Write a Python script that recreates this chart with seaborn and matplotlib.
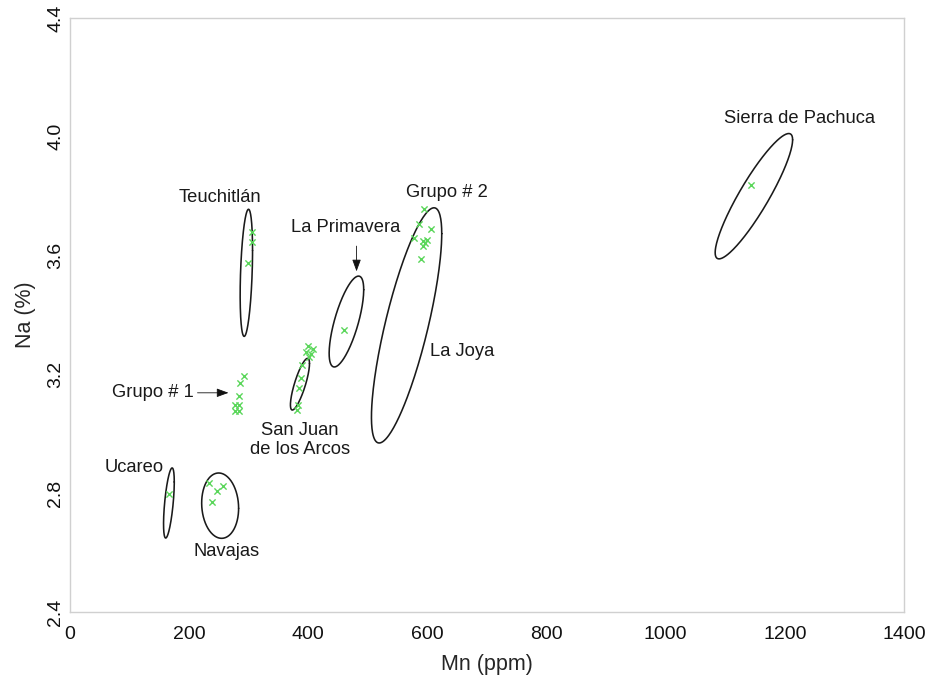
import matplotlib
matplotlib.use('Agg')
import matplotlib.pyplot as plt
from matplotlib.ticker import MultipleLocator
import seaborn as sns
import pandas as pd
import numpy as np

# measured sample points (Mn ppm, Na %)
teuchitlan_mn = [306, 306, 298]
teuchitlan_na = [3.681, 3.646, 3.574]
primavera_mn = [460]
primavera_na = [3.349]
grupo2_mn = [595, 586, 606, 578, 593, 599, 596, 593, 589]
grupo2_na = [3.758, 3.705, 3.691, 3.660, 3.649, 3.652, 3.641, 3.632, 3.587]
pachuca_mn = [1143]
pachuca_na = [3.838]
grupo1_mn = [292, 285, 284, 277, 284, 277, 284]
grupo1_na = [3.194, 3.171, 3.126, 3.098, 3.098, 3.078, 3.078]
sanjuan_mn = [400, 408, 396, 405, 401, 390, 388, 384, 383, 381]
sanjuan_na = [3.294, 3.284, 3.274, 3.267, 3.257, 3.230, 3.189, 3.155, 3.098, 3.081]
ucareo_mn = [166]
ucareo_na = [2.798]
navajas_mn = [234, 256, 246, 238]
navajas_na = [2.834, 2.825, 2.809, 2.772]

# source ellipses: centre, half-extent in x and y, tilt (correlation)
ell_names = ['Teuchitlán', 'La Primavera', 'La Joya', 'Sierra de Pachuca',
             'San Juan', 'Ucareo', 'Navajas']
ell_cx = [296, 464, 565, 1148, 386, 166, 252]
ell_cy = [3.542, 3.378, 3.365, 3.800, 3.167, 2.767, 2.758]
ell_sx = [10.4, 29, 59, 65, 16, 9, 31]
ell_sy = [0.214, 0.153, 0.396, 0.211, 0.087, 0.118, 0.110]
ell_rho = [0.35, 0.70, 0.78, 0.90, 0.80, 0.60, -0.08]

sns.set_theme(style='white')
plt.rcParams['font.family'] = ['Liberation Sans', 'DejaVu Sans']

all_mn = (teuchitlan_mn + primavera_mn + grupo2_mn + pachuca_mn + grupo1_mn
          + sanjuan_mn + ucareo_mn + navajas_mn)
all_na = (teuchitlan_na + primavera_na + grupo2_na + pachuca_na + grupo1_na
          + sanjuan_na + ucareo_na + navajas_na)
df = pd.DataFrame({'Mn': all_mn, 'Na': all_na})

fig = plt.figure(figsize=(9.25, 6.85), dpi=100)
ax = fig.add_axes([0.0757, 0.1066, 0.9016, 0.8671])

sns.scatterplot(data=df, x='Mn', y='Na', marker='x', color='#5ad65a',
                s=20, linewidth=1.0, ax=ax, zorder=3)

t = np.linspace(0, 2 * np.pi, 240)
for cx, cy, sx, sy, r in zip(ell_cx, ell_cy, ell_sx, ell_sy, ell_rho):
    ex = cx + sx * np.cos(t)
    ey = cy + sy * (r * np.cos(t) + np.sqrt(1 - r * r) * np.sin(t))
    ax.plot(ex, ey, color='#1a1a1a', lw=1.15, zorder=2)

fs = 13.2
tc = '#1a1a1a'
ax.text(252, 3.795, 'Teuchitlán', ha='center', va='center', fontsize=fs, color=tc)
ax.text(462, 3.695, 'La Primavera', ha='center', va='center', fontsize=fs, color=tc)
ax.text(633, 3.812, 'Grupo # 2', ha='center', va='center', fontsize=fs, color=tc)
ax.text(605, 3.278, 'La Joya', ha='left', va='center', fontsize=fs, color=tc)
ax.text(1224, 4.063, 'Sierra de Pachuca', ha='center', va='center', fontsize=fs, color=tc)
ax.text(207, 3.138, 'Grupo # 1', ha='right', va='center', fontsize=fs, color=tc)
ax.text(386, 2.980, 'San Juan\nde los Arcos', ha='center', va='center',
        fontsize=fs, linespacing=1.12, color=tc)
ax.text(107, 2.886, 'Ucareo', ha='center', va='center', fontsize=fs, color=tc)
ax.text(262, 2.603, 'Navajas', ha='center', va='center', fontsize=fs, color=tc)

arrow = dict(arrowstyle='-|>,head_length=0.6,head_width=0.22', color='#111111',
             lw=0.6, shrinkA=0, shrinkB=0)
ax.annotate('', xy=(266, 3.138), xytext=(214, 3.138), arrowprops=arrow)
ax.annotate('', xy=(481, 3.547), xytext=(481, 3.632), arrowprops=arrow)

ax.set_xlim(0, 1400)
ax.set_ylim(2.4, 4.4)
ax.xaxis.set_major_locator(MultipleLocator(200))
ax.xaxis.set_minor_locator(MultipleLocator(100))
ax.yaxis.set_major_locator(MultipleLocator(0.4))
ax.yaxis.set_minor_locator(MultipleLocator(0.2))
ax.yaxis.set_major_formatter(matplotlib.ticker.FormatStrFormatter('%.1f'))

ax.tick_params(which='both', direction='in', color='#c8c8c8', width=0.8)
ax.tick_params(which='major', length=6, labelsize=14, labelcolor='#111111')
ax.tick_params(which='minor', length=5)
ax.tick_params(axis='x', which='major', pad=10)
ax.tick_params(axis='y', which='major', pad=4, labelrotation=90)
for lab in ax.get_yticklabels():
    lab.set_va('center')

for sp in ax.spines.values():
    sp.set_color('#d0d0d0')
    sp.set_linewidth(1.0)

ax.set_xlabel('Mn (ppm)', fontsize=15.5, labelpad=8)
ax.set_ylabel('Na (%)', fontsize=15.5, labelpad=8)

fig.savefig('out.png', dpi=100)
